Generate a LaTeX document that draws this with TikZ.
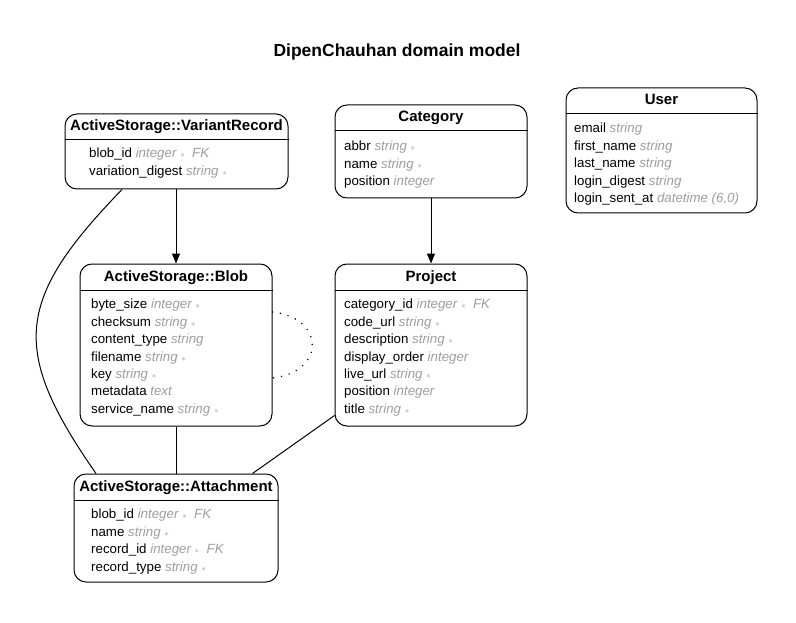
\documentclass[tikz,border=0pt]{standalone}
\usepackage{fontspec}
\setmainfont{Liberation Sans}
\usepackage{xcolor}
\usetikzlibrary{arrows.meta, calc}
\definecolor{TypeGray}{HTML}{9E9E9E}
\newcommand{\ty}[1]{\textcolor{TypeGray}{\itshape #1}}
\newcommand{\nn}{\textcolor{TypeGray}{~$\scriptstyle\ast$}}
\newcommand{\fk}{\ty{~~FK}}

\begin{document}
\begin{tikzpicture}[x=1pt, y=-1pt,
      entity/.style={draw, line width=1pt, rounded corners=12pt, inner sep=0pt},
      head/.style={font=\fontsize{15}{18}\selectfont\bfseries, inner sep=0pt,
                   text height=10.8pt, text depth=3pt},
      attr/.style={anchor=west, inner sep=0pt, font=\fontsize{13.3}{16}\selectfont,
                   text height=9.6pt, text depth=2.8pt, yshift=-1.5pt},
      rel/.style={line width=1pt}]
      \useasboundingbox[fill=white] (0,0) rectangle (796,623);
      % Title
      \node[font=\fontsize{17.5}{21}\selectfont\bfseries, inner sep=0pt] (title) at (397,52) {DipenChauhan domain model};
      % Entities
      \node[entity, minimum width=223pt, minimum height=75pt]  (vr)   at (176.5,151.5) {};
      \node[entity, minimum width=192pt, minimum height=162pt] (blob) at (176,345)     {};
      \node[entity, minimum width=192pt, minimum height=93pt]  (cat)  at (431,151.5)   {};
      \node[entity, minimum width=192pt, minimum height=162pt] (proj) at (431,345)     {};
      \node[entity, minimum width=191pt, minimum height=125pt] (user) at (661.5,150.5) {};
      \node[entity, minimum width=204pt, minimum height=108pt] (att)  at (176,528)     {};
      % Header rules
      \draw[rel] (vr.west |- 0,140)     -- (vr.east |- 0,140);
      \draw[rel] (blob.west |- 0,290.5) -- (blob.east |- 0,290.5);
      \draw[rel] (cat.west |- 0,131)    -- (cat.east |- 0,131);
      \draw[rel] (proj.west |- 0,290.5) -- (proj.east |- 0,290.5);
      \draw[rel] (user.west |- 0,114)   -- (user.east |- 0,114);
      \draw[rel] (att.west |- 0,500.5)  -- (att.east |- 0,500.5);
      % Headers
      \node[head] (vr-head)   at (176.5,127) {ActiveStorage::VariantRecord};
      \node[head] (blob-head) at (176,277.5) {ActiveStorage::Blob};
      \node[head] (cat-head)  at (431,118)   {Category};
      \node[head] (proj-head) at (431,277.5) {Project};
      \node[head] (user-head) at (661.5,100.5) {User};
      \node[head] (att-head)  at (176,487.5) {ActiveStorage::Attachment};
      % Attributes: VariantRecord
      \node[attr] (vr-blob) at (89,153) {blob\_id \ty{integer}\nn\fk};
      \node[attr] (vr-dig)  at (89,171) {variation\_digest \ty{string}\nn};
      % Attributes: Blob
      \node[attr] (blob-size) at (91,304)   {byte\_size \ty{integer}\nn};
      \node[attr] (blob-sum)  at (91,321.4) {checksum \ty{string}\nn};
      \node[attr] (blob-type) at (91,338.8) {content\_type \ty{string}};
      \node[attr] (blob-file) at (91,356.2) {filename \ty{string}\nn};
      \node[attr] (blob-key)  at (91,373.6) {key \ty{string}\nn};
      \node[attr] (blob-meta) at (91,391)   {metadata \ty{text}};
      \node[attr] (blob-svc)  at (91,408.4) {service\_name \ty{string}\nn};
      % Attributes: Category
      \node[attr] (cat-abbr) at (344,146)   {abbr \ty{string}\nn};
      \node[attr] (cat-name) at (344,163.4) {name \ty{string}\nn};
      \node[attr] (cat-pos)  at (344,180.8) {position \ty{integer}};
      % Attributes: Project
      \node[attr] (proj-cat)   at (344,304)   {category\_id \ty{integer}\nn\fk};
      \node[attr] (proj-code)  at (344,321.4) {code\_url \ty{string}\nn};
      \node[attr] (proj-desc)  at (344,338.8) {description \ty{string}\nn};
      \node[attr] (proj-order) at (344,356.2) {display\_order \ty{integer}};
      \node[attr] (proj-live)  at (344,373.6) {live\_url \ty{string}\nn};
      \node[attr] (proj-pos)   at (344,391)   {position \ty{integer}};
      \node[attr] (proj-title) at (344,408.4) {title \ty{string}\nn};
      % Attributes: User
      \node[attr] (user-mail)  at (574,128)   {email \ty{string}};
      \node[attr] (user-first) at (574,145.4) {first\_name \ty{string}};
      \node[attr] (user-last)  at (574,162.8) {last\_name \ty{string}};
      \node[attr] (user-dig)   at (574,180.2) {login\_digest \ty{string}};
      \node[attr] (user-sent)  at (574,197.6) {login\_sent\_at \ty{datetime (6,0)}};
      % Attributes: Attachment
      \node[attr] (att-blob) at (91,514)   {blob\_id \ty{integer}\nn\fk};
      \node[attr] (att-name) at (91,531.4) {name \ty{string}\nn};
      \node[attr] (att-rec)  at (91,548.8) {record\_id \ty{integer}\nn\fk};
      \node[attr] (att-type) at (91,566.2) {record\_type \ty{string}\nn};
      % Relations
      \draw[rel, -{Triangle[length=10pt, width=8pt]}] (vr.south -| blob.north) -- (blob.north);
      \draw[rel, -{Triangle[length=10pt, width=8pt]}] (cat.south) -- (proj.north);
      \draw[rel] (blob.south) -- (att.north);
      \draw[rel] ([yshift=11pt]proj.south west) -- ([xshift=-26pt]att.north east);
      \draw[rel] ([xshift=-54.5pt]vr.south) .. controls (15,300) and (10,350) .. ([xshift=-80pt]att.north);
      \draw[rel, dash pattern=on 0pt off 8pt, line cap=round, line width=1.6pt]
        ([yshift=33pt]blob.east) .. controls +(53,6) and +(53,-6) .. ([yshift=-33pt]blob.east);
\end{tikzpicture}
\end{document}
